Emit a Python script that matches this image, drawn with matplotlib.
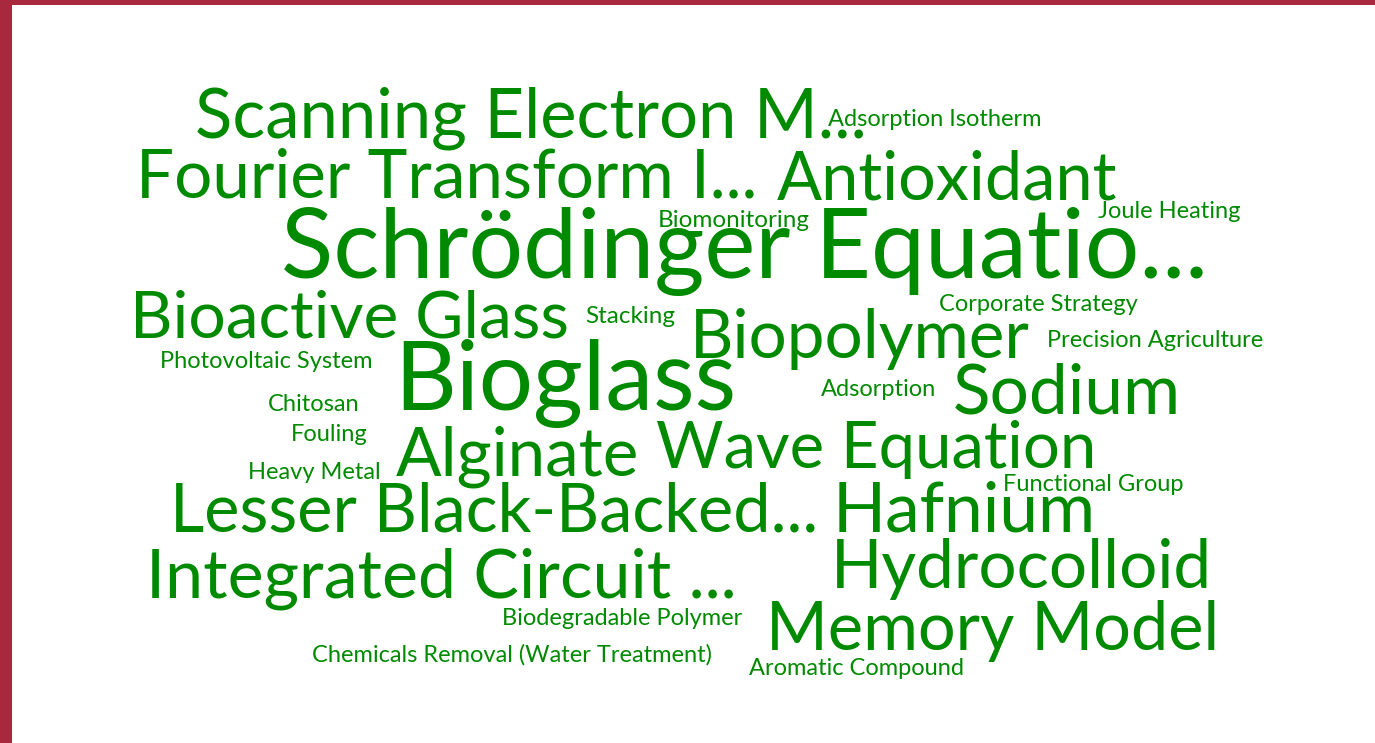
import matplotlib
matplotlib.use("Agg")
import matplotlib.pyplot as plt
from matplotlib.patches import Rectangle

# word cloud data: term and weight (rendered font size)
words = [
    "Scanning Electron M...", "Adsorption Isotherm", "Fourier Transform I...",
    "Antioxidant", "Biomonitoring", "Joule Heating", "Schrödinger Equatio...",
    "Bioactive Glass", "Stacking", "Corporate Strategy", "Biopolymer",
    "Precision Agriculture", "Photovoltaic System", "Bioglass", "Adsorption",
    "Sodium", "Chitosan", "Fouling", "Alginate", "Wave Equation",
    "Heavy Metal", "Functional Group", "Lesser Black-Backed...", "Hafnium",
    "Integrated Circuit ...", "Hydrocolloid", "Biodegradable Polymer",
    "Memory Model", "Chemicals Removal (Water Treatment)", "Aromatic Compound",
]
weights = [49.5, 17, 48.5, 48, 17.5, 17, 69.5, 47.5, 17.5, 17, 48.5, 17, 17,
           69, 17, 50, 17, 17, 48.5, 47, 17, 17, 48, 50, 49, 48.5, 17, 48,
           17, 17]

# layout (pixel positions: center x, baseline y)
pos_x = [531, 935, 447, 947, 734, 1169, 745, 350, 630, 1038, 860, 1155, 266,
         565, 879, 1067, 314, 329, 517, 876, 314, 1093, 494, 964, 441, 1021,
         622, 993, 512, 857]
pos_y = [138, 126, 197, 200, 227, 218, 278, 338, 323, 311, 358, 347, 368,
         410, 396, 413, 411, 441, 475, 468, 479, 491, 531, 531, 597, 588,
         625, 650, 662, 675]

W, H = 1375, 743
fig = plt.figure(figsize=(W / 100, H / 100), dpi=100)
ax = fig.add_axes([0, 0, 1, 1])
ax.set_xlim(0, W)
ax.set_ylim(H, 0)
ax.axis("off")

border = "#a8283e"
ax.add_patch(Rectangle((0, 0), 12, H, color=border, lw=0))
ax.add_patch(Rectangle((0, 0), W, 5, color=border, lw=0))

for w, s, x, y in zip(words, weights, pos_x, pos_y):
    ax.text(x, y, w, fontsize=s, color="#008a00", ha="center", va="baseline",
            family=["Lato", "DejaVu Sans"])

fig.savefig("out.png", dpi=100)
